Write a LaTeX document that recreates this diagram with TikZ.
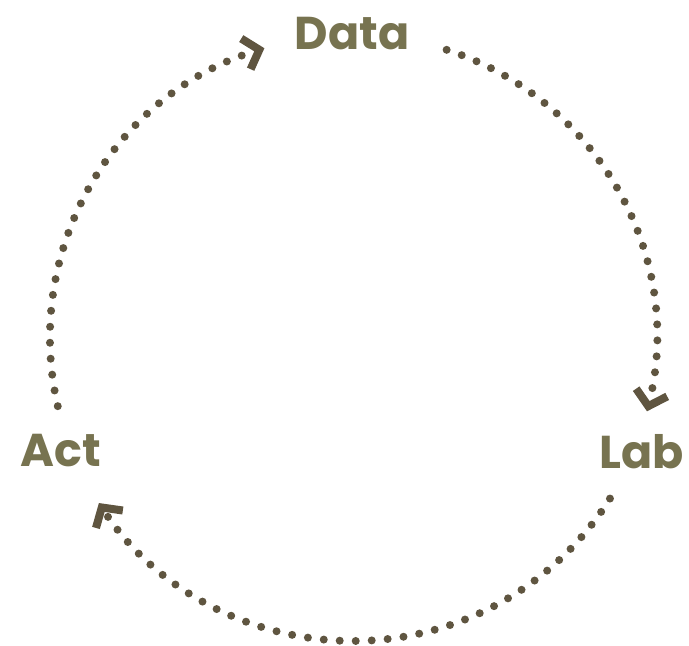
\documentclass[tikz,border=0pt]{standalone}
\usepackage{fontspec}
\setmainfont{Poppins}
\usetikzlibrary{arrows.meta}
\definecolor{dotbrown}{RGB}{95,85,64}
\definecolor{labelolive}{RGB}{119,115,80}
\begin{document}
\begin{tikzpicture}[x=1pt,y=1pt,
  lbl/.style={text=labelolive,font=\bfseries\fontsize{46}{46}\selectfont,anchor=base,inner sep=0pt},
  cyc/.style={dotbrown,line width=8pt,line cap=round,dash pattern=on 0pt off 16pt,
    -{Straight Barb[length=14pt,width=32pt,line width=8pt]}}]
\useasboundingbox (0,0) rectangle (689,646);
\coordinate (c) at (353,308);
\node[lbl] (data) at (352,596) {Data};
\node[lbl] (lab) at (642,177) {Lab};
\node[lbl] (act) at (61,179) {Act};
% cycle arcs, clockwise
\draw[cyc] (c) ++(72:303) arc[start angle=72,end angle=-14,radius=303];
\draw[cyc] (c) ++(-32:303) arc[start angle=-32,end angle=-147,radius=303];
\draw[cyc] (c) ++(193:303) arc[start angle=193,end angle=107,radius=303];
\end{tikzpicture}
\end{document}
